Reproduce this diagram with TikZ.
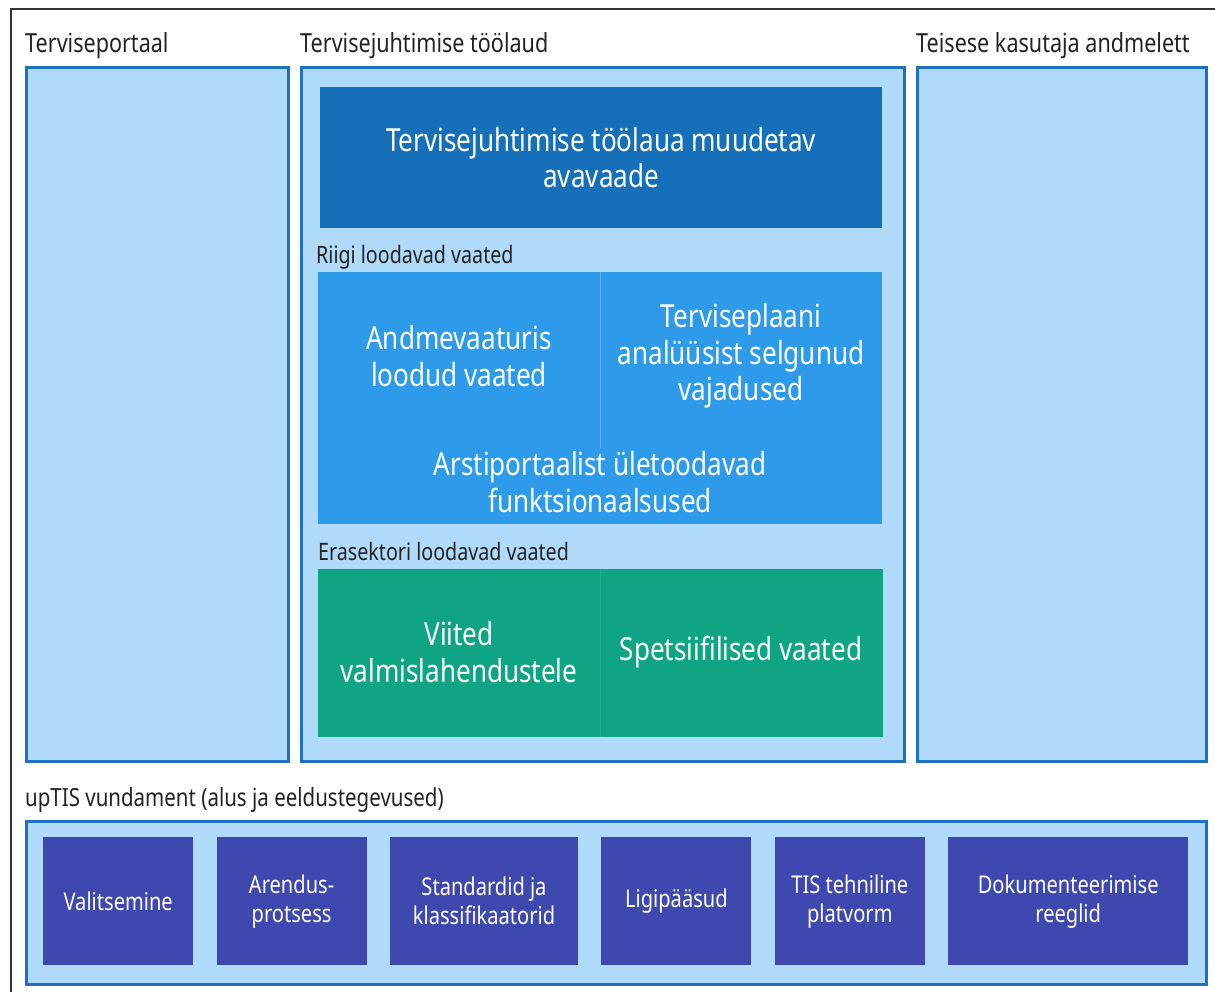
\documentclass[tikz,border=0pt]{standalone}
\usepackage{fontspec}
\setmainfont{Noto Sans}[FakeStretch=0.82]
\usetikzlibrary{positioning}

\definecolor{panelfill}{HTML}{B0DAFA}
\definecolor{panelline}{HTML}{1F6FC2}
\definecolor{homeblue}{HTML}{1670B9}
\definecolor{statblue}{HTML}{2E9BEA}
\definecolor{privgreen}{HTML}{0FA584}
\definecolor{basepurple}{HTML}{3F48AE}
\definecolor{labeltext}{HTML}{222222}

\tikzset{
  frame/.style={draw=black!80, line width=2.5pt},
  panel/.style={draw=panelline, line width=2.5pt, fill=panelfill, anchor=north west, inner sep=0pt},
  block/.style={anchor=north west, inner sep=0pt},
  caption/.style={anchor=base west, inner sep=0pt, text=labeltext, font=\fontsize{26.3}{30}\selectfont},
  subcaption/.style={anchor=base west, inner sep=0pt, text=labeltext, font=\fontsize{24}{28}\selectfont},
  bigtext/.style={text=white, align=center, inner sep=0pt, font=\fontsize{31.8}{36.5}\selectfont},
  tile/.style={fill=basepurple, minimum height=128pt, inner sep=0pt, text=white, align=center, font=\fontsize{24.5}{29}\selectfont},
  divide/.style={draw=white!20!statblue, line width=0.8pt},
}

\begin{document}
\begin{tikzpicture}[x=1pt,y=-1pt]
\useasboundingbox (0,0) rectangle (1215,991);

% outer frame
\draw[frame] (1218,9) -- (11,9) -- (11,994);

% the three columns
\node[caption] (portaal-cap) at (25,52) {Terviseportaal};
\node[panel, minimum width=262pt, minimum height=694pt] (portaal) at (25,66) {};

\node[caption] (toolaud-cap) at (300,52) {Tervisejuhtimise töölaud};
\node[panel, minimum width=603pt, minimum height=694pt] (toolaud) at (300,66) {};

\node[caption] (andmelett-cap) at (916,52) {Teisese kasutaja andmelett};
\node[panel, minimum width=289pt, minimum height=694pt] (andmelett) at (916,66) {};

% avavaade
\node[block, fill=homeblue, minimum width=562pt, minimum height=141pt] (avavaade) at (320,87) {};
\node[bigtext] (avavaade-txt) at (avavaade.center) {Tervisejuhtimise töölaua muudetav\\avavaade};

% riigi vaated
\node[subcaption] (riigi-cap) at (316,263) {Riigi loodavad vaated};
\node[block, fill=statblue, minimum width=564pt, minimum height=252pt] (riigi) at (318,272) {};
\draw[divide] (riigi.north) -- ++(0,176);
\node[bigtext] (andmevaatur) at (459,356) {Andmevaaturis\\loodud vaated};
\node[bigtext] (tervisepl) at (741,356) {Terviseplaani\\analüüsist selgunud\\vajadused};
\node[bigtext] (arstiportaal) at (600,482) {Arstiportaalist ületoodavad\\funktsionaalsused};

% erasektori vaated
\node[subcaption] (era-cap) at (318,560) {Erasektori loodavad vaated};
\node[block, fill=privgreen, minimum width=565pt, minimum height=168pt] (era) at (318,569) {};
\draw[divide, draw=white!8!privgreen] (era.north) -- (era.south);
\node[bigtext] (viited) at (459,652) {Viited\\valmislahendustele};
\node[bigtext] (spetsiif) at (741,652) {Spetsiifilised vaated};

% vundament
\node[caption, font=\fontsize{25}{30}\selectfont] (vundament-cap) at (25,806) {upTIS vundament (alus ja eeldustegevused)};
\node[panel, minimum width=1180pt, minimum height=163pt] (vundament) at (25,820) {};

\node[tile, minimum width=150pt, anchor=north west] (valitsemine) at (43,837) {Valitsemine};
\node[tile, minimum width=150pt, right=23pt of valitsemine] (arendus) {Arendus-\\protsess};
\node[tile, minimum width=188pt, right=23pt of arendus] (standardid) {Standardid ja\\klassifikaatorid};
\node[tile, minimum width=150pt, right=23pt of standardid] (ligipaasud) {Ligipääsud};
\node[tile, minimum width=150pt, right=23pt of ligipaasud] (platvorm) {TIS tehniline\\platvorm};
\node[tile, minimum width=240pt, right=23pt of platvorm] (dokument) {Dokumenteerimise\\reeglid};

\end{tikzpicture}
\end{document}
